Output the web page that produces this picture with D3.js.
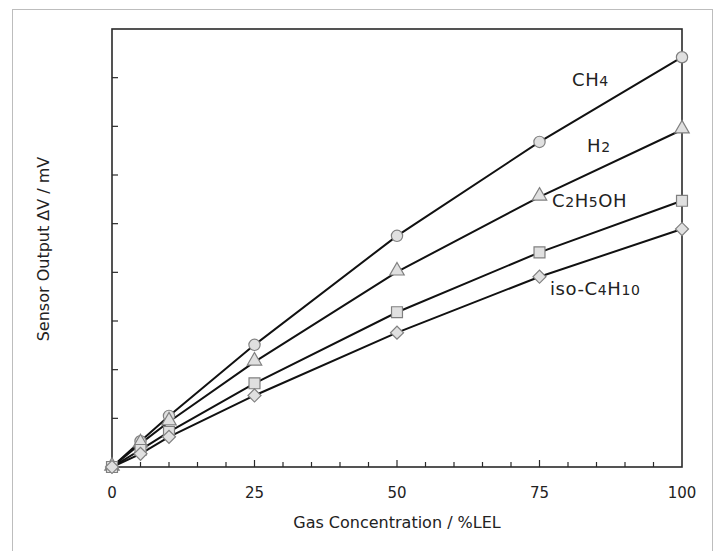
<!DOCTYPE html>
<html><head><meta charset="utf-8">
<script src="https://cdn.jsdelivr.net/npm/d3@7"></script>
<style>body{margin:0;background:#fff}svg{display:block}text{font-family:"DejaVu Sans",sans-serif;fill:#222}</style>
</head><body>
<script>
const concentrations = [0, 5, 10, 25, 50, 75, 100];
const ch4 = [0, 0.53, 1.05, 2.51, 4.75, 6.68, 8.42];
const h2 = [0, 0.48, 0.93, 2.16, 4.01, 5.55, 6.93];
const c2h5oh = [0, 0.35, 0.72, 1.72, 3.18, 4.41, 5.47];
const isoC4H10 = [0, 0.27, 0.62, 1.47, 2.76, 3.91, 4.89];
const xTickLabels = [0, 25, 50, 75, 100];
const seriesNames = [["CH","4"], ["H","2"], ["C","2","H","5","OH"], ["iso-C","4","H","10"]];
const seriesShapes = ["circle", "triangle", "square", "diamond"];

const W = 717, H = 551;
const svg = d3.select("body").append("svg").attr("width", W).attr("height", H);
svg.append("rect").attr("x", 12.5).attr("y", 9.5).attr("width", 700).attr("height", 560)
  .attr("fill", "none").attr("stroke", "#bdbdbd").attr("stroke-width", 1);

const x = d3.scaleLinear().domain([0, 100]).range([112, 682]);
const y = d3.scaleLinear().domain([0, 9]).range([467, 29]);

// frame
svg.append("rect").attr("x", x(0)).attr("y", y(9)).attr("width", x(100) - x(0)).attr("height", y(0) - y(9))
  .attr("fill", "none").attr("stroke", "#2a2a2a").attr("stroke-width", 1.6);

// x ticks (inward)
const xMinor = d3.range(5, 100, 5);
svg.append("g").selectAll("line").data(xMinor).join("line")
  .attr("x1", d => x(d)).attr("x2", d => x(d)).attr("y1", y(0)).attr("y2", d => y(0) - (d % 25 === 0 ? 7 : 5))
  .attr("stroke", "#2a2a2a").attr("stroke-width", 1.2);
// y ticks (inward)
svg.append("g").selectAll("line").data(d3.range(1, 9)).join("line")
  .attr("x1", x(0)).attr("x2", x(0) + 6).attr("y1", d => y(d)).attr("y2", d => y(d))
  .attr("stroke", "#2a2a2a").attr("stroke-width", 1.2);

// x tick labels
svg.append("g").selectAll("text").data(xTickLabels).join("text")
  .attr("x", d => x(d)).attr("y", 498).attr("text-anchor", "middle").attr("font-size", 15).text(d => d);

svg.append("text").attr("x", 397).attr("y", 528).attr("text-anchor", "middle").attr("font-size", 16)
  .text("Gas Concentration / %LEL");
svg.append("text").attr("transform", "translate(49,249) rotate(-90)").attr("text-anchor", "middle").attr("font-size", 16)
  .text("Sensor Output ΔV / mV");

const allSeries = [ch4, h2, c2h5oh, isoC4H10];
const line = d3.line().x((d, i) => x(concentrations[i])).y(d => y(d));
allSeries.forEach(s => {
  svg.append("path").attr("d", line(s)).attr("fill", "none").attr("stroke", "#111").attr("stroke-width", 2);
});

const symTypes = {circle: d3.symbolCircle, triangle: d3.symbolTriangle, square: d3.symbolSquare, diamond: d3.symbolSquare};
const symSizes = {circle: 100, triangle: 90, square: 120, diamond: 85};
allSeries.forEach((s, k) => {
  const shp = seriesShapes[k];
  svg.append("g").selectAll("path").data(s).join("path")
    .attr("transform", (d, i) => `translate(${x(concentrations[i])},${y(d) + (shp === "triangle" ? -1 : 0)})` + (shp === "diamond" ? " rotate(45)" : ""))
    .attr("d", d3.symbol().type(symTypes[shp]).size(symSizes[shp]))
    .attr("fill", "#e0e0e0").attr("stroke", "#808080").attr("stroke-width", 1.2);
});

// series labels with subscripts
const labelPos = [[572, 86], [587, 152], [552, 207], [550, 295]];
seriesNames.forEach((parts, k) => {
  const t = svg.append("text").attr("x", labelPos[k][0]).attr("y", labelPos[k][1]).attr("font-size", 18)
    .attr("letter-spacing", 0.6);
  parts.forEach((p, j) => {
    const sub = /^\d+$/.test(p);
    t.append("tspan").attr("font-size", sub ? 14 : 18).text(p);
  });
});
</script>
</body></html>
